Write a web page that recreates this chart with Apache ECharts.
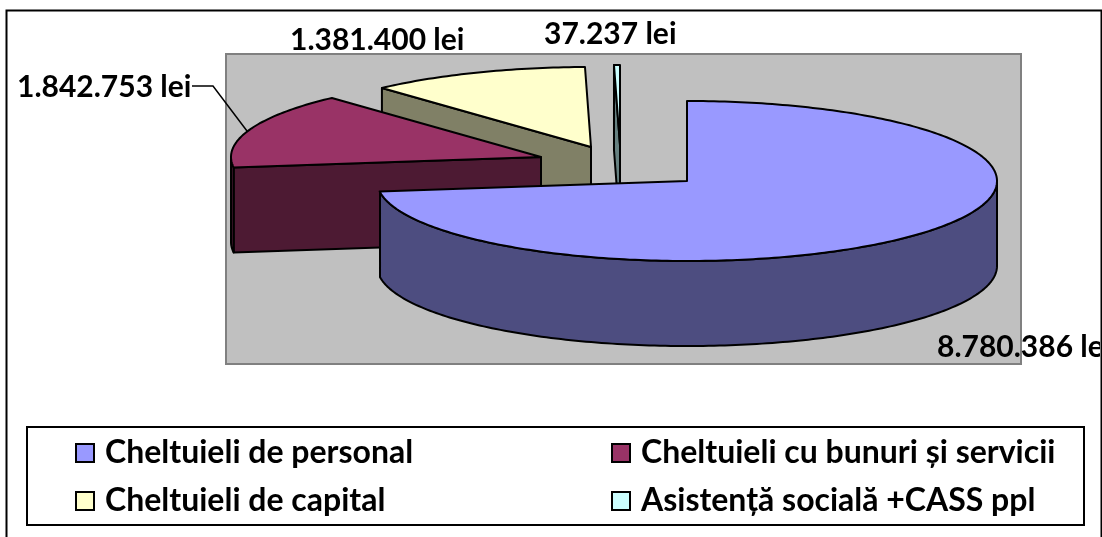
<!DOCTYPE html>
<html>
<head>
<meta charset="utf-8">
<style>html,body{margin:0;padding:0;background:#fff}#c{width:1102px;height:537px}</style>
<script src="https://cdn.jsdelivr.net/npm/echarts@6/dist/echarts.min.js"></script>
</head>
<body>
<div id="c"></div>
<script>
const categories = ['Cheltuieli de personal', 'Cheltuieli cu bunuri și servicii', 'Cheltuieli de capital', 'Asistență socială +CASS ppl'];
const values = [8780386, 1842753, 1381400, 37237];
const valueLabels = ['8.780.386 lei', '1.842.753 lei', '1.381.400 lei', '37.237 lei'];
const topColors = ['#9999FF', '#993366', '#FFFFCC', '#CCFFFF'];
const sideColors = ['#4D4D80', '#4D1A33', '#808066', '#668080'];

// layout of the projected pie
const RX = 310, RY = 80, DEPTH = 85;
const tips = [[687, 181], [541, 157], [591, 147], [620, 145]];
const labelPos = [[937, 347], [17, 87], [290, 40], [544, 34]];
const FONT = 'Lato, "Open Sans", sans-serif';
const total = values.reduce((a, b) => a + b, 0);
const rad = d => d * Math.PI / 180;

function renderSlice(idx) {
  let start = 0;
  for (let i = 0; i < idx; i++) start += values[i] / total * 360;
  const sweep = values[idx] / total * 360;
  const end = start + sweep;
  const [tx, ty] = tips[idx];
  const p = (a, dz) => [tx + RX * Math.sin(rad(a)), ty - RY * Math.cos(rad(a)) + (dz || 0)];
  const stroke = { stroke: '#000', lineWidth: 2, lineJoin: 'round' };
  const children = [];
  // cut wall on the starting edge (faces the viewer for the back-left slices)
  if (idx > 0) {
    children.push({ type: 'polygon', shape: { points: [p(start), [tx, ty], [tx, ty + DEPTH], p(start, DEPTH)] },
      style: Object.assign({ fill: sideColors[idx] }, stroke) });
  }
  // outer wall: the part of the rim on the near half of the ellipse
  const a0 = Math.max(start, 90), a1 = Math.min(end, 270);
  if (a1 > a0) {
    const topEdge = [], botEdge = [];
    for (let a = a0; a <= a1 + 1e-6; a += Math.min(1, (a1 - a0))) { topEdge.push(p(a)); botEdge.unshift(p(a, DEPTH)); }
    children.push({ type: 'polygon', shape: { points: topEdge.concat(botEdge) },
      style: Object.assign({ fill: sideColors[idx] }, stroke) });
  }
  // top face
  const face = [[tx, ty]];
  const n = Math.max(2, Math.ceil(sweep));
  for (let i = 0; i <= n; i++) face.push(p(start + sweep * i / n));
  children.push({ type: 'polygon', shape: { points: face },
    style: Object.assign({ fill: topColors[idx] }, stroke) });
  // value label
  const lab = { type: 'text', x: labelPos[idx][0], y: labelPos[idx][1], z2: 50,
    style: { text: valueLabels[idx], fill: '#000', font: 'bold 30px ' + FONT, textAlign: 'left', textVerticalAlign: 'middle' } };
  if (idx === 0) lab.clipPath = { type: 'rect', shape: { x: 0, y: -30, width: 1100 - labelPos[0][0], height: 60 } };
  children.push(lab);
  if (idx === 1) {
    children.push({ type: 'polyline', shape: { points: [[192, 86], [213, 86], [247, 131]] },
      style: { stroke: '#000', lineWidth: 1.5, fill: null } });
  }
  return { type: 'group', children };
}

const order = [3, 2, 1, 0];
const series = order.map((idx, k) => ({
  type: 'custom', name: categories[idx], coordinateSystem: 'none', z: 3 + k,
  silent: true, animation: false,
  itemStyle: { color: topColors[idx] },
  data: [values[idx]],
  renderItem: () => renderSlice(idx)
}));

const legendPos = [[75, 437], [611, 437], [75, 485], [611, 485]];
const legend = categories.map((name, i) => ({
  data: [name], left: legendPos[i][0], top: legendPos[i][1], padding: 0,
  icon: 'rect', itemWidth: 18, itemHeight: 18, itemGap: 0, selectedMode: false,
  itemStyle: { borderColor: '#000', borderWidth: 2 },
  textStyle: { fontFamily: FONT, fontWeight: 'bold', fontSize: 32, color: '#000', padding: [0, 0, 0, 6] }
}));

const chart = echarts.init(document.getElementById('c'), null, { renderer: 'canvas' });
chart.setOption({
  animation: false,
  backgroundColor: '#fff',
  legend,
  graphic: [
    { type: 'rect', z: 0, shape: { x: 6.5, y: 10.5, width: 1095, height: 540 }, style: { fill: '#fff', stroke: '#000', lineWidth: 2 } },
    { type: 'rect', z: 1, shape: { x: 226, y: 54, width: 795, height: 310 }, style: { fill: '#C0C0C0', stroke: '#808080', lineWidth: 2 } },
    { type: 'rect', z: 1, shape: { x: 27, y: 427, width: 1057, height: 98 }, style: { fill: '#fff', stroke: '#000', lineWidth: 2 } }
  ],
  series
});
</script>
</body>
</html>
